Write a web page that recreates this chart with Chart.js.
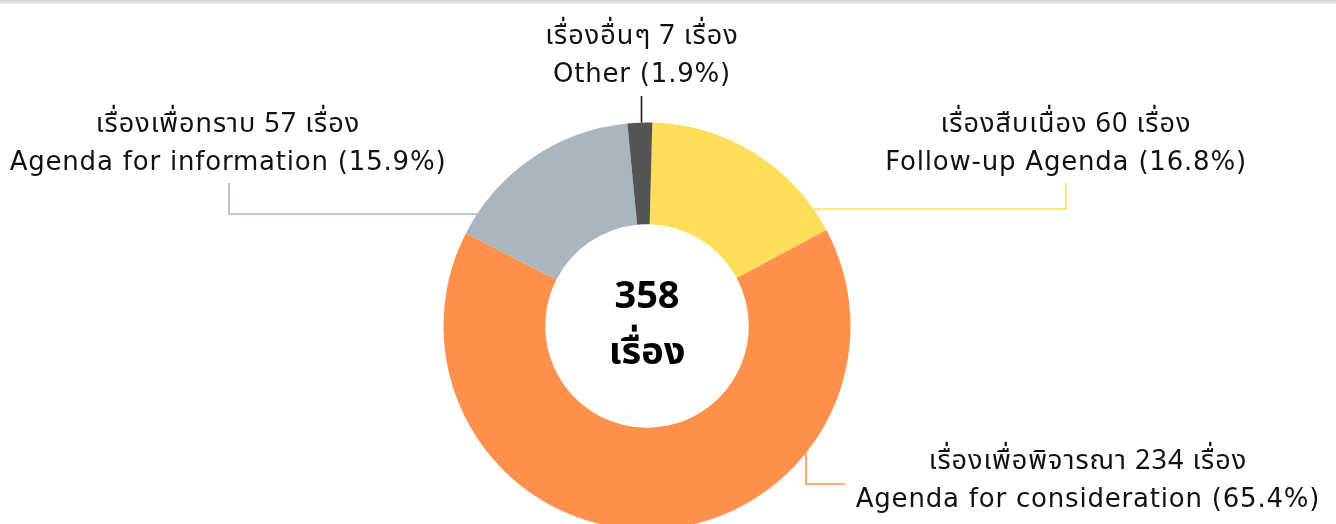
<!DOCTYPE html>
<html>
<head>
<meta charset="utf-8">
<script src="https://cdn.jsdelivr.net/npm/chart.js@4/dist/chart.umd.min.js"></script>
<style>
  html, body { margin: 0; padding: 0; background: #fff; overflow: hidden; }
  #wrap { position: absolute; left: 0; top: 0; width: 1336px; height: 560px; }
  .topbar { position: absolute; left: 0; top: 0; width: 1336px; height: 4px;
            background: linear-gradient(#d4d4d4, #f2f2f2); }
</style>
</head>
<body>
<div id="wrap"><canvas id="agendaChart"></canvas></div>
<div class="topbar"></div>
<script>
// data
const thaiLabels = ['เรื่องสืบเนื่อง', 'เรื่องเพื่อพิจารณา', 'เรื่องเพื่อทราบ', 'เรื่องอื่นๆ'];
const engLabels = ['Follow-up Agenda', 'Agenda for consideration', 'Agenda for information', 'Other'];
const counts = [60, 234, 57, 7];
const percents = ['16.8%', '65.4%', '15.9%', '1.9%'];
const totalText = ['358', 'เรื่อง'];
const unitWord = 'เรื่อง';

const sliceColors = ['#FFDE59', '#FF914D', '#AAB6BD', '#545454'];
const lineColors = ['#FFDE59', '#FF914D', '#AAB6BD', '#1a1a1a'];
const FONT = '"DejaVu Sans", "Noto Sans Thai", sans-serif';
const THAI_FONT = '"Noto Sans Thai", "Noto Sans", sans-serif';

// where each label sits (text centre) and how its leader line bends
const labelSpots = [
    { x: 1066, y: 127, start: [1066, 183], elbow: [1066, 209], dir: 'h' },
    { x: 1088, y: 464, start: [845, 484], elbow: [806, 484], dir: 'v' },
    { x: 228, y: 127, start: [229, 183], elbow: [229, 214], dir: 'h' },
    { x: 642, y: 39, start: [641.5, 96], elbow: [641.5, 96], dir: 'v' }
];

const calloutPlugin = {
    id: 'callouts',
    afterDatasetsDraw(chart) {
        const ctx = chart.ctx;
        const arc = chart.getDatasetMeta(0).data[0];
        const cx = arc.x, cy = arc.y, R = arc.outerRadius;

        ctx.save();
        labelSpots.forEach(function(spot, i) {
            // leader line, last segment runs to the ring edge
            let end;
            if (spot.dir === 'h') {
                const dy = spot.elbow[1] - cy;
                const dx = Math.sqrt(R * R - dy * dy);
                end = [cx + Math.sign(spot.elbow[0] - cx) * dx, spot.elbow[1]];
            } else {
                const dx = spot.elbow[0] - cx;
                const dy = Math.sqrt(R * R - dx * dx);
                end = [spot.elbow[0], cy + Math.sign(spot.elbow[1] - cy) * dy];
            }
            ctx.strokeStyle = lineColors[i];
            ctx.lineWidth = 1.6;
            ctx.beginPath();
            ctx.moveTo(spot.start[0], spot.start[1]);
            ctx.lineTo(spot.elbow[0], spot.elbow[1]);
            ctx.lineTo(end[0], end[1]);
            ctx.stroke();

            // two lines of text
            ctx.fillStyle = '#111';
            ctx.textAlign = 'center';
            ctx.textBaseline = 'middle';
            ctx.letterSpacing = '1px';
            ctx.font = '27px ' + THAI_FONT;
            ctx.fillText(thaiLabels[i] + ' ' + counts[i] + ' ' + unitWord, spot.x, spot.y);
            ctx.letterSpacing = '0.8px';
            ctx.font = '26px ' + FONT;
            ctx.fillText(engLabels[i] + ' (' + percents[i] + ')', spot.x, spot.y + 36);
        });

        // total in the hole
        ctx.letterSpacing = '0px';
        ctx.font = 'bold 38px ' + THAI_FONT;
        ctx.fillStyle = '#000';
        ctx.fillText(totalText[0], cx, cy - 26);
        ctx.fillText(totalText[1], cx, cy + 30);
        ctx.restore();
    }
};

const chartCtx = document.getElementById('agendaChart').getContext('2d');
const agendaChart = new Chart(chartCtx, {
    type: 'doughnut',
    data: {
        labels: engLabels,
        datasets: [{
            data: counts,
            backgroundColor: sliceColors,
            borderWidth: 0
        }]
    },
    options: {
        responsive: true,
        maintainAspectRatio: false,
        animation: false,
        cutout: '50%',
        rotation: 1.5,
        layout: { padding: { top: 122.5, bottom: 30.5, left: 0, right: 42 } },
        plugins: {
            legend: { display: false },
            tooltip: { enabled: false }
        }
    },
    plugins: [calloutPlugin]
});
</script>
</body>
</html>
